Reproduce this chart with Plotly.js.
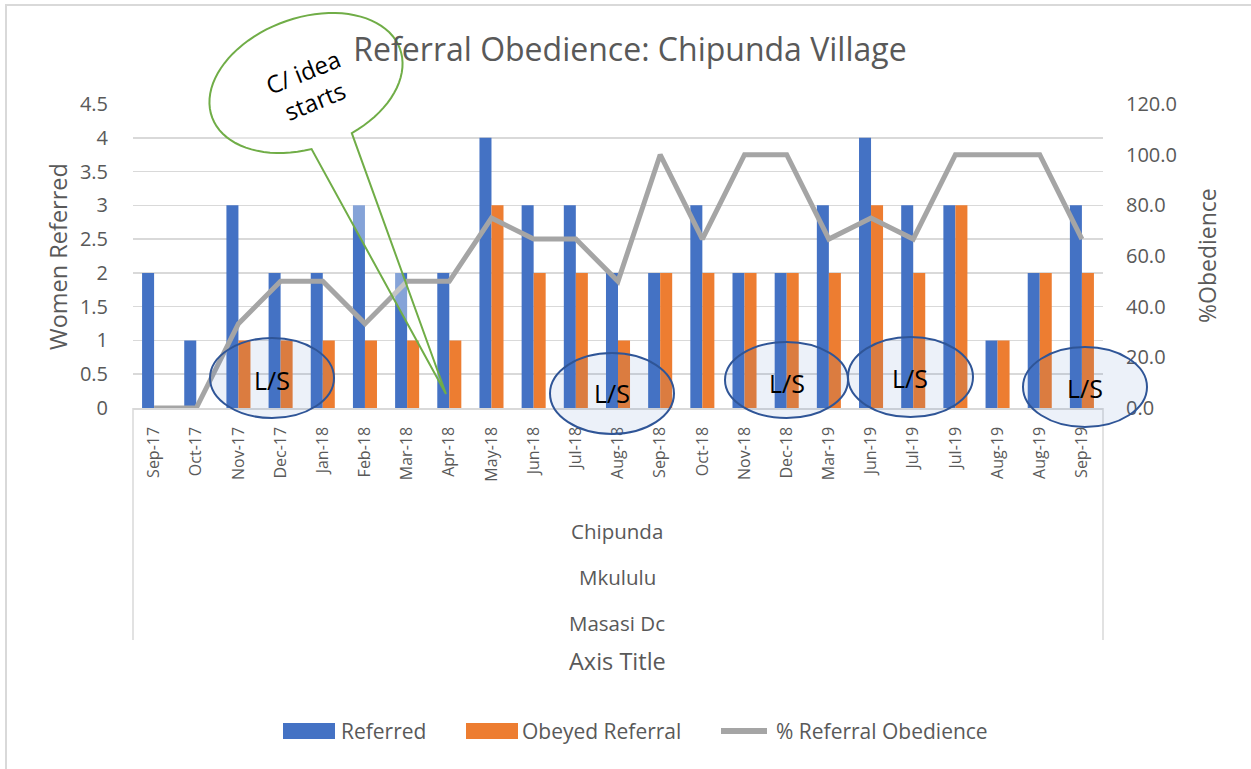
<!DOCTYPE html>
<html>
<head>
<meta charset="utf-8">
<script src="https://cdn.plot.ly/plotly-3.0.1.min.js"></script>
<style>html,body{margin:0;padding:0;background:#fff;}#chart{width:1251px;height:769px;}</style>
</head>
<body>
<div id="chart"></div>
<script>
// ---- data ----
const months = ["Sep-17","Oct-17","Nov-17","Dec-17","Jan-18","Feb-18","Mar-18","Apr-18","May-18","Jun-18","Jul-18","Aug-18","Sep-18","Oct-18","Nov-18","Dec-18","Mar-19","Jun-19","Jul-19","Jul-19","Aug-19","Aug-19","Sep-19"];
const referred = [2,1,3,2,2,3,2,2,4,3,3,2,2,3,2,2,3,4,3,3,1,2,3];
const obeyed   = [0,0,1,1,1,1,1,1,3,2,2,1,2,2,2,2,2,3,2,3,1,2,2];
const pctObedience = [0,0,33.3,50,50,33.3,50,50,75,66.7,66.7,50,100,66.7,100,100,66.7,75,66.7,100,100,100,66.7];
const groupLabels = ["Chipunda","Mkululu","Masasi Dc"];
const seriesNames = ["Referred","Obeyed Referral","% Referral Obedience"];
const lsLabel = "L/S";
const calloutText = "C/ idea<br>starts";

// ---- layout helpers (pixel -> paper) ----
const W = 1251, H = 769, L = 133, R = 1103, T = 104, B = 408;
const px = x => (x - L) / (R - L);
const py = y => (B - y) / (B - T);
const idx = months.map((_, i) => i);
const FONT = "Open Sans, Noto Sans, sans-serif";
const GREY_TXT = "#595959";

const traces = [
  {type:"bar", x: idx, y: referred, name: seriesNames[0], marker:{color:"#4472C4"}, showlegend:false, hoverinfo:"skip"},
  {type:"bar", x: idx, y: obeyed, name: seriesNames[1], marker:{color:"#ED7D31"}, showlegend:false, hoverinfo:"skip"},
  {type:"scatter", mode:"lines", x: idx, y: pctObedience, yaxis:"y2", name: seriesNames[2],
   line:{color:"#A5A5A5", width:5}, showlegend:false, hoverinfo:"skip"}
];

const shapes = [];
const annotations = [];
function label(x, y, text, size, color, opts) {
  annotations.push(Object.assign({xref:"paper", yref:"paper", x:px(x), y:py(y), xanchor:"center", yanchor:"middle",
    text:text, showarrow:false, font:{family:FONT, size:size, color:color}}, opts || {}));
}

// outer chart border
shapes.push({type:"path", xref:"paper", yref:"paper",
  path:`M ${px(6)} ${py(772)} L ${px(6)} ${py(5)} L ${px(1255)} ${py(5)}`,
  line:{color:"#d9d9d9", width:2}});
// category area dividers
[L, R].forEach(x => shapes.push({type:"line", xref:"paper", yref:"paper",
  x0:px(x), x1:px(x), y0:py(B), y1:py(640), line:{color:"#d9d9d9", width:1.5}}));

// L/S ellipses
const lsBoxes = [[210,338,334,418],[550,353,674,434],[725,342,848,418],[848,337,973,417],[1023,347,1147,427]];
const lsText = [[272,380],[612,393],[787,383],[910,378],[1085,388]];
lsBoxes.forEach(b => shapes.push({type:"circle", xref:"paper", yref:"paper", layer:"above",
  x0:px(b[0]), x1:px(b[2]), y0:py(b[3]), y1:py(b[1]),
  fillcolor:"rgba(68,114,196,0.10)", line:{color:"#2F5597", width:2}}));
lsText.forEach(p => label(p[0], p[1], lsLabel, 25, "#000"));

// speech bubble callout (rotated ellipse + tail)
(function(){
  const cx = 306, cy = 83, a = 100, b = 65, th = 20*Math.PI/180;
  const pt = t => [cx + a*Math.cos(t)*Math.cos(th) + b*Math.sin(t)*Math.sin(th),
                   cy - a*Math.cos(t)*Math.sin(th) + b*Math.sin(t)*Math.cos(th)];
  const tip = [446, 394];
  let p = `M ${px(tip[0])} ${py(tip[1])}`;
  const t0 = 100*Math.PI/180, t1 = (75+360)*Math.PI/180;
  const n = 80;
  for (let k = 0; k <= n; k++) {
    const q = pt(t0 + (t1 - t0)*k/n);
    p += ` L ${px(q[0])} ${py(q[1])}`;
  }
  p += " Z";
  shapes.push({type:"path", xref:"paper", yref:"paper", layer:"above", path:p,
    fillcolor:"rgba(255,255,255,0.35)", line:{color:"#70AD47", width:2}});
})();
label(309, 86, calloutText, 24, "#000", {textangle:-22});

// category group labels and axis titles
label(617, 531, groupLabels[0], 20.5, GREY_TXT);
label(617, 577, groupLabels[1], 20.5, GREY_TXT);
label(617, 623, groupLabels[2], 20.5, GREY_TXT);
label(617, 661, "Axis Title", 23.5, GREY_TXT);
label(58, 257, "Women Referred", 23.5, GREY_TXT, {textangle:-90});
label(1207, 256, "%Obedience", 23, GREY_TXT, {textangle:-90});

// custom legend
shapes.push({type:"rect", xref:"paper", yref:"paper", x0:px(283), x1:px(335), y0:py(739), y1:py(723),
  fillcolor:"#4472C4", line:{width:0}});
shapes.push({type:"rect", xref:"paper", yref:"paper", x0:px(466), x1:px(518), y0:py(739), y1:py(723),
  fillcolor:"#ED7D31", line:{width:0}});
shapes.push({type:"line", xref:"paper", yref:"paper", x0:px(721), x1:px(767), y0:py(731), y1:py(731),
  line:{color:"#A5A5A5", width:6}});
label(339, 731, seriesNames[0], 21, GREY_TXT, {xanchor:"left"});
label(520, 731, seriesNames[1], 21, GREY_TXT, {xanchor:"left"});
label(774, 731, seriesNames[2], 21, GREY_TXT, {xanchor:"left"});

const layout = {
  width: W, height: H,
  margin:{l:L, r:W-R, t:T, b:H-B, pad:0},
  paper_bgcolor:"#fff", plot_bgcolor:"rgba(0,0,0,0)",
  font:{family:FONT, color:GREY_TXT},
  title:{text:"Referral Obedience: Chipunda Village", x:630/W, xanchor:"center", y:1-50/H, yanchor:"middle",
    font:{family:FONT, size:32, color:GREY_TXT}},
  barmode:"group", bargap:0.43, bargroupgap:0,
  showlegend:false,
  xaxis:{range:[-0.5, months.length-0.5], tickmode:"array", tickvals:idx, ticktext:months, tickangle:-90,
    tickfont:{family:FONT, size:16, color:GREY_TXT}, showgrid:false, zeroline:false,
    showline:true, linecolor:"#d9d9d9", linewidth:1.5, ticks:"outside", ticklen:11, tickcolor:"rgba(0,0,0,0)", fixedrange:true},
  yaxis:{range:[0,4.5], dtick:0.5, tick0:0, showgrid:true, gridcolor:"#d9d9d9", gridwidth:1.5, zeroline:false,
    tickfont:{family:FONT, size:20, color:GREY_TXT}, ticks:"outside", ticklen:20, tickcolor:"rgba(0,0,0,0)", fixedrange:true},
  yaxis2:{range:[0,120], dtick:20, tick0:0, overlaying:"y", side:"right", showgrid:false, zeroline:false,
    tickformat:".1f", tickfont:{family:FONT, size:20, color:GREY_TXT}, ticks:"outside", ticklen:18,
    tickcolor:"rgba(0,0,0,0)", fixedrange:true},
  shapes: shapes,
  annotations: annotations
};

Plotly.newPlot("chart", traces, layout, {displayModeBar:false, staticPlot:true});
</script>
</body>
</html>
